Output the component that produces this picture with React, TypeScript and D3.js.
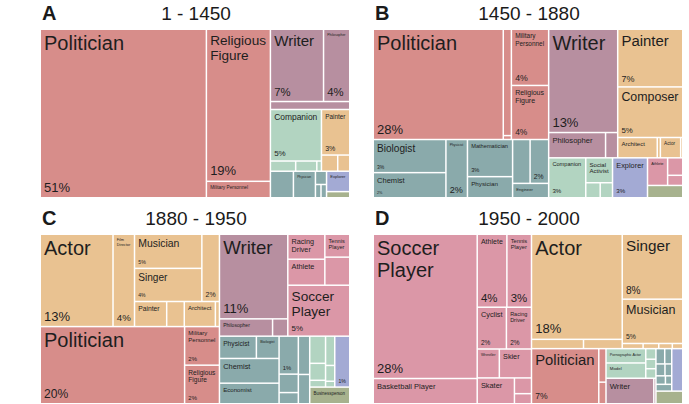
import React, { useMemo } from 'react';
import * as d3 from 'd3';

const FONT = '"Liberation Sans", Arial, Helvetica, sans-serif';

// categories (domains) and colours
const INST = 'Institutions';
const HUM = 'Humanities';
const ARTS = 'Arts';
const PUB = 'Public Figure';
const SCI = 'Science & Technology';
const EXP = 'Exploration';
const SPORT = 'Sports';
const BUS = 'Business & Law';
const categoryNames = [INST, HUM, ARTS, PUB, SCI, EXP, SPORT, BUS];
const categoryColors = ['#d78d8a', '#b78fa0', '#e9c291', '#b2d4c1', '#8aaaab', '#a3aad4', '#db97a7', '#a7b28e'];

const panelLetters = ['A', 'B', 'C', 'D'];
const periodTitles = ['1 - 1450', '1450 - 1880', '1880 - 1950', '1950 - 2000'];

type Node = { dir?: 'h' | 'v'; children?: Node[]; name?: string; value?: number; cat?: string; pct?: string };
const H = (...children: Node[]): Node => ({ dir: 'h', children });
const V = (...children: Node[]): Node => ({ dir: 'v', children });
const L = (name: string, value: number, cat: string, pct?: string): Node => ({ name, value, cat, pct });

// ---- Period 1 - 1450 (share of biographies, %)
const periodA = H(
  H(L('Politician', 53.2, INST, '51%'), V(L('Religious Figure', 18.5, INST, '19%'), L('Military Personnel', 2.0, INST))),
  V(
    V(H(L('Writer', 7.3, HUM, '7%'), L('Philosopher', 3.6, HUM, '4%')), L('', 1.2, HUM)),
    H(
      V(L('Companion', 5.0, PUB, '5%'), H(L('', 0.49, PUB), L('', 0.41, PUB), L('', 0.09, PUB))),
      V(L('Painter', 2.45, ARTS, '3%'), H(L('', 0.5, ARTS), L('', 0.37, ARTS)))
    ),
    H(
      H(L('', 1.16, SCI), L('Physician', 1.11, SCI), V(L('', 0.28, SCI), H(L('', 0.14, SCI), L('', 0.14, SCI)))),
      V(L('Explorer', 0.9, EXP), L('', 0.27, BUS))
    )
  )
);

// ---- Period 1450 - 1880
const periodB = H(
  V(
    H(
      L('Politician', 27.1, INST, '28%'),
      V(L('', 1.63, INST), L('', 0.06, INST)),
      V(L('Military Personnel', 3.96, INST, '4%'), L('Religious Figure', 3.81, INST, '4%'))
    ),
    H(
      V(L('Biologist', 4.55, SCI, '3%'), L('Chemist', 3.45, SCI, '2%')),
      L('Physicist', 2.37, SCI, '2%'),
      V(L('Mathematician', 3.17, SCI, '3%'), L('Physician', 1.8, SCI)),
      V(H(L('', 1.45, SCI), L('', 1.54, SCI, '2%')), L('Engineer', 0.98, SCI))
    )
  ),
  V(
    H(
      V(L('Writer', 13.48, HUM, '13%'), H(L('Philosopher', 2.72, HUM), L('', 0.58, HUM))),
      V(
        L('Painter', 7.09, ARTS, '7%'),
        L('Composer', 6.22, ARTS, '5%'),
        H(L('Architect', 1.52, ARTS), L('', 0.12, ARTS), L('Actor', 0.78, ARTS), L('', 0.08, ARTS))
      )
    ),
    H(
      H(L('Companion', 2.8, PUB, '3%'), V(L('Social Activist', 1.26, PUB), H(L('', 0.41, PUB), L('', 0.35, PUB)))),
      L('Explorer', 2.64, EXP, '3%'),
      V(H(L('Athlete', 1.05, SPORT), V(L('', 0.5, SPORT), L('', 0.29, SPORT))), L('', 0.82, BUS))
    )
  )
);

// ---- Period 1880 - 1950
const periodC = H(
  V(
    H(
      L('Actor', 12.49, ARTS, '13%'),
      L('Film Director', 3.69, ARTS, '4%'),
      V(
        H(V(L('Musician', 4.27, ARTS, '5%'), L('Singer', 4.15, ARTS, '4%')), L('', 2.2, ARTS, '2%')),
        H(L('Painter', 1.5, ARTS), L('', 0.82, ARTS), L('Architect', 1.45, ARTS), L('', 0.19, ARTS))
      )
    ),
    H(L('Politician', 20.71, INST, '20%'), V(L('Military Personnel', 2.5, INST, '2%'), L('Religious Figure', 2.5, INST, '2%')))
  ),
  V(
    H(
      V(L('Writer', 10.75, HUM, '11%'), H(L('Philosopher', 1.71, HUM), L('', 0.49, HUM))),
      V(
        H(V(L('Racing Driver', 1.72, SPORT), L('Athlete', 1.79, SPORT)), V(L('Tennis Player', 1.06, SPORT), L('', 1.3, SPORT))),
        L('Soccer Player', 5.87, SPORT, '5%')
      )
    ),
    H(
      H(
        V(H(L('Physicist', 1.53, SCI), L('Biologist', 0.94, SCI)), L('Chemist', 2.74, SCI), L('Economist', 2.28, SCI)),
        V(L('', 1.36, SCI, '1%'), L('Physician', 0.66, SCI), L('', 0.4, SCI)),
        V(L('', 0.81, SCI, '1%'), L('', 0.62, SCI))
      ),
      V(
        H(
          H(V(L('', 0.8, PUB), L('', 0.5, PUB), L('', 0.2, PUB)), V(L('', 0.5, PUB), L('', 0.27, PUB), L('', 0.1, PUB))),
          L('', 1.42, EXP, '1%')
        ),
        L('Businessperson', 1.24, BUS)
      )
    )
  )
);

// ---- Period 1950 - 2000
const periodD = H(
  H(
    V(L('Soccer Player', 27.9, SPORT, '28%'), L('Basketball Player', 4.88, SPORT)),
    V(
      H(L('Athlete', 4.03, SPORT, '4%'), L('Tennis Player', 3.34, SPORT, '3%')),
      H(L('Cyclist', 2.27, SPORT, '2%'), L('Racing Driver', 1.95, SPORT, '2%')),
      H(L('Wrestler', 1.19, SPORT), L('Skier', 1.73, SPORT)),
      H(L('Skater', 1.79, SPORT), V(L('', 0.5, SPORT), L('', 0.32, SPORT)))
    )
  ),
  V(
    H(
      V(L('Actor', 17.74, ARTS, '18%'), H(L('', 0.9, ARTS), L('', 0.67, ARTS))),
      V(
        L('Singer', 7.31, ARTS, '8%'),
        L('Musician', 4.99, ARTS, '5%'),
        H(L('', 0.2, ARTS), L('', 0.15, ARTS), L('', 0.13, ARTS), L('', 0.1, ARTS))
      )
    ),
    H(
      H(L('Politician', 6.9, INST, '7%'), V(L('', 0.45, INST), L('', 0.29, INST))),
      V(
        H(V(L('Pornographic Actor', 1.06, PUB), L('Model', 1.13, PUB)), V(L('', 0.2, PUB), L('', 0.18, PUB), L('', 0.18, PUB))),
        H(L('Writer', 2.27, HUM), L('', 0.1, HUM))
      ),
      V(
        H(
          V(H(L('', 0.25, SCI), L('', 0.2, SCI)), H(L('', 0.2, SCI), L('', 0.15, SCI)), H(L('', 0.15, SCI), L('', 0.1, SCI)), L('', 0.2, SCI)),
          L('', 0.87, EXP, '1%')
        ),
        L('', 0.63, BUS)
      )
    )
  )
);

const periodTrees = [periodA, periodB, periodC, periodD];

// ---------- text measuring
let ctx: CanvasRenderingContext2D | null = null;
const emCache = new Map<string, number>();
function em(str: string): number {
  if (emCache.has(str)) return emCache.get(str)!;
  if (!ctx) ctx = document.createElement('canvas').getContext('2d');
  let v = str.length * 0.55;
  if (ctx) {
    ctx.font = `100px ${FONT}`;
    v = ctx.measureText(str).width / 100;
  }
  emCache.set(str, v);
  return v;
}

function wrapLines(words: string[], s: number, maxW: number): string[] | null {
  const lines: string[] = [];
  let cur = '';
  for (const w of words) {
    if (em(w) * s > maxW) return null;
    const cand = cur ? cur + ' ' + w : w;
    if (em(cand) * s <= maxW) cur = cand;
    else {
      lines.push(cur);
      cur = w;
    }
  }
  if (cur) lines.push(cur);
  return lines;
}

function fitLabel(name: string, w: number, h: number, pctSize: number) {
  if (!name) return null;
  const availW = w - 6;
  const availH = h - 6 - (pctSize ? pctSize * 1.2 : 0);
  const words = name.split(' ');
  for (let s = Math.min(20, 0.25 * Math.sqrt(w * h), 0.32 * h); s >= 3; s -= 0.2) {
    const lines = wrapLines(words, s, availW);
    if (!lines) continue;
    if (lines.length * s * 1.1 - s * 0.1 <= availH) return { s, lines };
  }
  return null;
}

const colorOf = d3.scaleOrdinal<string, string>().domain(categoryNames).range(categoryColors);

const tile = (node: any, x0: number, y0: number, x1: number, y1: number) => {
  if (node.data.dir === 'h') d3.treemapDice(node, x0, y0, x1, y1);
  else d3.treemapSlice(node, x0, y0, x1, y1);
};

const panelX = [41, 374];
const panelY = [30, 235];
const panelW = 308;
const panelH = [167, 168];

function Panel({ idx }: { idx: number }) {
  const col = idx % 2;
  const row = Math.floor(idx / 2);
  const ox = panelX[col];
  const oy = panelY[row];
  const h = panelH[row];
  const leaves = useMemo(() => {
    const root = d3
      .hierarchy<Node>(periodTrees[idx], (d) => d.children)
      .sum((d) => (d.children ? 0 : d.value || 0));
    d3.treemap<Node>().size([panelW, h]).paddingInner(1.5).tile(tile as any).round(false)(root);
    return root.leaves() as d3.HierarchyRectangularNode<Node>[];
  }, [idx, h]);

  return (
    <g>
      <text x={ox + 1} y={oy - 10} fontFamily={FONT} fontWeight="bold" fontSize={20} fill="#1a1a1a">
        {panelLetters[idx]}
      </text>
      <text x={ox + 155} y={oy - 10} fontFamily={FONT} fontSize={19} textAnchor="middle" fill="#1a1a1a">
        {periodTitles[idx]}
      </text>
      <g transform={`translate(${ox},${oy})`}>
        {leaves.map((lf, i) => (
          <rect
            key={'r' + i}
            x={lf.x0}
            y={lf.y0}
            width={Math.max(0, lf.x1 - lf.x0)}
            height={Math.max(0, lf.y1 - lf.y0)}
            fill={colorOf(lf.data.cat!)}
          />
        ))}
        {leaves.map((lf, i) => {
          const w = lf.x1 - lf.x0;
          const hh = lf.y1 - lf.y0;
          const pct = lf.data.pct;
          let pctSize = pct ? Math.min(13, 0.16 * hh, (w - 6) / em(pct)) : 0;
          if (pctSize < 3) pctSize = 0;
          const lab = fitLabel(lf.data.name || '', w, hh, pctSize);
          return (
            <g key={'t' + i} fontFamily={FONT} fill="#1e1e1e">
              {lab && (
                <text x={lf.x0 + 3} y={lf.y0 + 3 + lab.s * 0.85} fontSize={lab.s}>
                  {lab.lines.map((ln, j) => (
                    <tspan key={j} x={lf.x0 + 3} dy={j === 0 ? 0 : lab.s * 1.1}>
                      {ln}
                    </tspan>
                  ))}
                </text>
              )}
              {pctSize > 0 && (
                <text x={lf.x0 + 3} y={lf.y1 - 2 - pctSize * 0.25} fontSize={pctSize}>
                  {pct}
                </text>
              )}
            </g>
          );
        })}
      </g>
    </g>
  );
}

export default function App() {
  return (
    <svg width={689} height={404} style={{ position: 'absolute', left: 0, top: 0, background: '#fff' }}>
      {[0, 1, 2, 3].map((i) => (
        <Panel key={i} idx={i} />
      ))}
    </svg>
  );
}
